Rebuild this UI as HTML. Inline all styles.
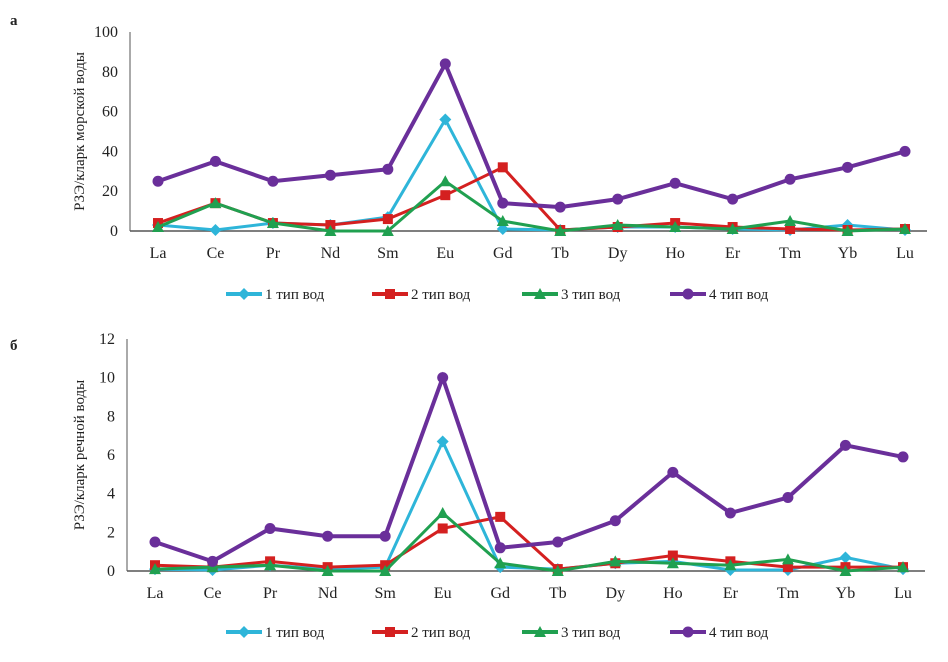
<!DOCTYPE html>
<html><head><meta charset="utf-8"><style>
body{margin:0;background:#fff}
svg text{font-family:"Liberation Serif",serif;fill:#222}
</style></head><body>
<svg id="s" width="948" height="657"></svg>
<script>
const categories=["La","Ce","Pr","Nd","Sm","Eu","Gd","Tb","Dy","Ho","Er","Tm","Yb","Lu"];
const seriesNames=["1 тип вод","2 тип вод","3 тип вод","4 тип вод"];
const a1=[3,0.5,4,3,7,56,1,0.5,2,2,1,0.5,3,0.5];
const a2=[4,14,4,3,6,18,32,0.5,2,4,2,1,0.5,1];
const a3=[2,14,4,0,0,25,5,0,3,2,1,5,0,1];
const a4=[25,35,25,28,31,84,14,12,16,24,16,26,32,40];
const b1=[0.1,0.05,0.3,0.1,0.2,6.7,0.2,0.1,0.4,0.5,0.05,0.05,0.7,0.1];
const b2=[0.3,0.2,0.5,0.2,0.3,2.2,2.8,0.1,0.4,0.8,0.5,0.2,0.2,0.2];
const b3=[0.1,0.2,0.3,0,0,3,0.4,0,0.5,0.4,0.3,0.6,0,0.2];
const b4=[1.5,0.5,2.2,1.8,1.8,10,1.2,1.5,2.6,5.1,3,3.8,6.5,5.9];
const ticksA=[0,20,40,60,80,100];
const ticksB=[0,2,4,6,8,10,12];
const colors=["#2eb5d9","#d42020","#20a050","#6a2f9a"];
const markers=["diamond","square","triangle","circle"];
const NS="http://www.w3.org/2000/svg";
const svg=document.getElementById('s');
function el(t,at,p){const e=document.createElementNS(NS,t);for(const k in at)e.setAttribute(k,at[k]);(p||svg).appendChild(e);return e;}
function marker(g,m,x,y,c){
 if(m=="diamond")return el('polygon',{points:`${x},${y-6} ${x+6},${y} ${x},${y+6} ${x-6},${y}`,fill:c},g);
 if(m=="square")return el('rect',{x:x-5,y:y-5,width:10,height:10,fill:c},g);
 if(m=="triangle")return el('polygon',{points:`${x},${y-6} ${x+6},${y+5} ${x-6},${y+5}`,fill:c},g);
 return el('circle',{cx:x,cy:y,r:5.5,fill:c},g);
}
function chart(name,letter,lx,ly,x0,x1,yTop,yBot,max,ticks,series,title,legY){
 const g=el('g',{});
 
 
 const xs=i=>x0+(x1-x0)*i/(categories.length-1);
 const ys=v=>yBot-(yBot-yTop)*v/max;
 const L=el('text',{x:lx,y:ly,'font-size':15,'font-weight':'bold'},g);L.textContent=letter;
 
 const ax=el('line',{x1:x0-28,y1:yTop,x2:x0-28,y2:yBot,stroke:'#555'},g);
 
 const bx=el('line',{x1:x0-28,y1:yBot,x2:x1+22,y2:yBot,stroke:'#555','stroke-width':1.5},g);
 
 ticks.forEach(t=>{const e=el('text',{x:x0-40,y:ys(t)+5,'font-size':16,'text-anchor':'end'},g);e.textContent=t;
  });
 categories.forEach((c,i)=>{const e=el('text',{x:xs(i),y:yBot+27,'font-size':16,'text-anchor':'middle'},g);e.textContent=c;
  });
 const tt=el('text',{x:0,y:0,'font-size':15,'text-anchor':'middle',transform:`translate(84,${(yTop+yBot)/2}) rotate(-90)`},g);tt.textContent=title;
 
 series.forEach((d,s)=>{
  const sg=el('g',{},g);
  
  el('polyline',{points:d.map((v,i)=>xs(i)+','+ys(v)).join(' '),fill:'none',stroke:colors[s],'stroke-width':s==3?4:3},sg);
  d.forEach((v,i)=>{const m=marker(sg,markers[s],xs(i),ys(v),colors[s]);
   });
 });
 const lx0=[226,372,522,670];
 seriesNames.forEach((n,s)=>{
  const lg=el('g',{},g);
  
  el('line',{x1:lx0[s],y1:legY,x2:lx0[s]+36,y2:legY,stroke:colors[s],'stroke-width':4},lg);
  marker(lg,markers[s],lx0[s]+18,legY,colors[s]);
  const e=el('text',{x:lx0[s]+39,y:legY+5,'font-size':15},lg);e.textContent=n;
 });
}
chart('chart-a','а',10,25,158,905,32,231,100,ticksA,[a1,a2,a3,a4],'РЗЭ/кларк морской воды',294);
chart('chart-b','б',10,350,155,903,339,571,12,ticksB,[b1,b2,b3,b4],'РЗЭ/кларк речной воды',632);
</script>
</body></html>
